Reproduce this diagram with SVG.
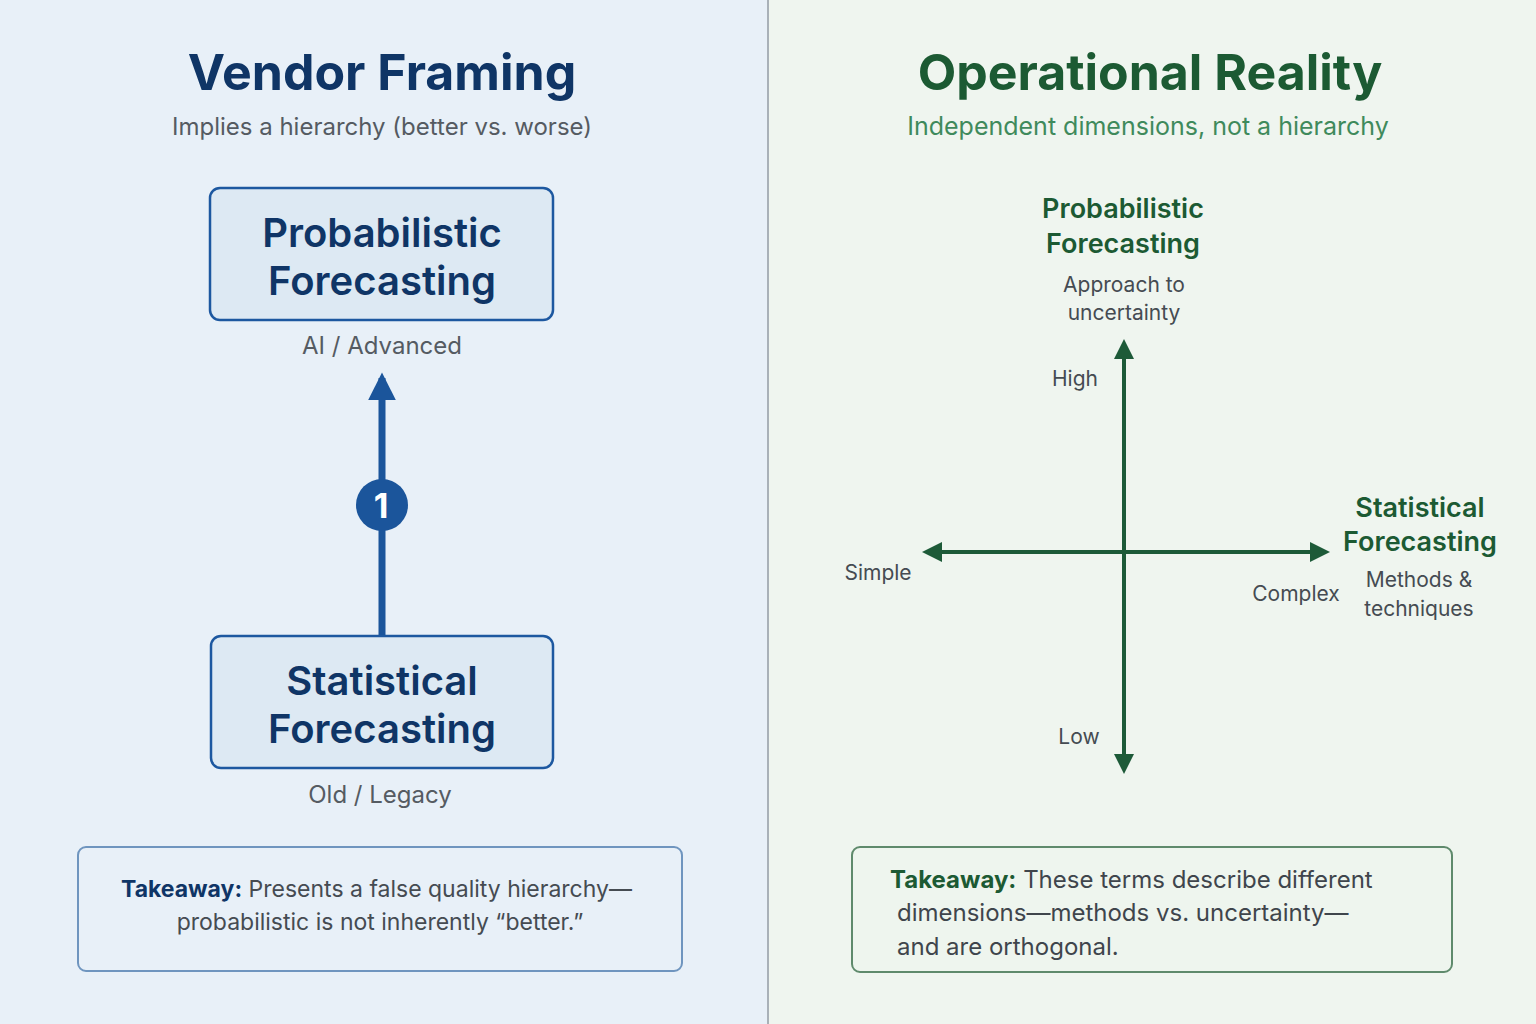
<svg xmlns="http://www.w3.org/2000/svg" width="1536" height="1024" viewBox="0 0 1536 1024">
<style>
text{font-family:Inter,"Noto Sans",sans-serif}
.bt{font-size:40px;font-weight:600;fill:#0f3566;text-anchor:middle}
.gt{font-size:27px;font-weight:600;fill:#1c5a33;text-anchor:middle}
.sub{font-size:24px;fill:#555b62;text-anchor:middle}
.sm{font-size:21px;fill:#454b52}
.box{fill:#dde9f3;stroke:#1d58a0;stroke-width:2.5}
</style>
<defs>
<marker id="ab" viewBox="0 0 10 10" refX="8" refY="5" markerWidth="4" markerHeight="4" orient="auto-start-reverse"><path d="M0 0L10 5L0 10z" fill="#1b559b"/></marker>
<marker id="ag" viewBox="0 0 10 10" refX="8" refY="5" markerWidth="5" markerHeight="5" orient="auto-start-reverse"><path d="M0 0L10 5L0 10z" fill="#1d5a38"/></marker>
</defs>
<rect width="768" height="1024" fill="#e8f0f8"/>
<rect x="768" width="768" height="1024" fill="#eff5ef"/>
<line x1="768" y1="0" x2="768" y2="1024" stroke="#a9b1b8" stroke-width="2"/>
<g id="left-title">
<text x="382" y="90" font-size="50" font-weight="700" fill="#0f3566" text-anchor="middle">Vendor Framing</text>
<text x="382" y="135" class="sub" font-size="25">Implies a hierarchy (better vs. worse)</text>
</g>
<g id="right-title">
<text x="1150" y="90" font-size="50" font-weight="700" fill="#1c5a33" text-anchor="middle">Operational Reality</text>
<text x="1148" y="135" font-size="25" fill="#3f8a5c" text-anchor="middle">Independent dimensions, not a hierarchy</text>
</g>
<g id="connectors">
<line x1="382" y1="636" x2="382" y2="378" stroke="#1b559b" stroke-width="7" marker-end="url(#ab)"/>
<line x1="1124" y1="770" x2="1124" y2="343" stroke="#1d5a38" stroke-width="4" marker-start="url(#ag)" marker-end="url(#ag)"/>
<line x1="926" y1="552" x2="1326" y2="552" stroke="#1d5a38" stroke-width="4" marker-start="url(#ag)" marker-end="url(#ag)"/>
</g>
<g id="node-prob">
<rect x="210" y="188" width="343" height="132" rx="10" class="box"/>
<text x="382" y="247" class="bt">Probabilistic</text>
<text x="382" y="295" class="bt">Forecasting</text>
<text x="382" y="354" class="sub">AI / Advanced</text>
</g>
<g id="badge">
<circle cx="382" cy="505" r="26" fill="#1b559b"/>
<text x="381" y="518" font-size="34" font-weight="700" fill="#fff" text-anchor="middle">1</text>
</g>
<g id="node-stat">
<rect x="211" y="636" width="342" height="132" rx="10" class="box"/>
<text x="382" y="695" class="bt">Statistical</text>
<text x="382" y="743" class="bt">Forecasting</text>
<text x="380" y="803" class="sub">Old / Legacy</text>
</g>
<g id="takeaway-left">
<rect x="78" y="847" width="604" height="124" rx="8" fill="#e8f0f8" stroke="#6f95bf" stroke-width="2"/>
<text x="121" y="897" font-size="23" fill="#454b52"><tspan font-weight="700" fill="#0f3566">Takeaway:</tspan>  Presents a false quality hierarchy—</text>
<text x="380" y="930" font-size="23" fill="#454b52" text-anchor="middle">probabilistic is not inherently “better.”</text>
</g>
<g id="axis-top">
<text x="1123" y="218" class="gt">Probabilistic</text>
<text x="1123" y="253" class="gt">Forecasting</text>
<text x="1124" y="292" class="sm" text-anchor="middle">Approach to</text>
<text x="1124" y="320" class="sm" text-anchor="middle">uncertainty</text>
<text x="1075" y="386" class="sm" text-anchor="middle">High</text>
<text x="1079" y="744" class="sm" text-anchor="middle">Low</text>
</g>
<g id="axis-right">
<text x="1420" y="517" class="gt">Statistical</text>
<text x="1420" y="551" class="gt">Forecasting</text>
<text x="1419" y="587" class="sm" text-anchor="middle">Methods &amp;</text>
<text x="1419" y="616" class="sm" text-anchor="middle">techniques</text>
<text x="1296" y="601" class="sm" text-anchor="middle">Complex</text>
<text x="878" y="580" class="sm" text-anchor="middle">Simple</text>
</g>
<g id="takeaway-right">
<rect x="852" y="847" width="600" height="125" rx="8" fill="#eef5ee" stroke="#5f8a6c" stroke-width="2"/>
<text x="890" y="888" font-size="24" fill="#3f454c"><tspan font-weight="700" fill="#1c5a33">Takeaway:</tspan> These terms describe different</text>
<text x="897" y="921" font-size="24" fill="#3f454c">dimensions—methods vs. uncertainty—</text>
<text x="897" y="955" font-size="24" fill="#3f454c">and are orthogonal.</text>
</g>
</svg>
